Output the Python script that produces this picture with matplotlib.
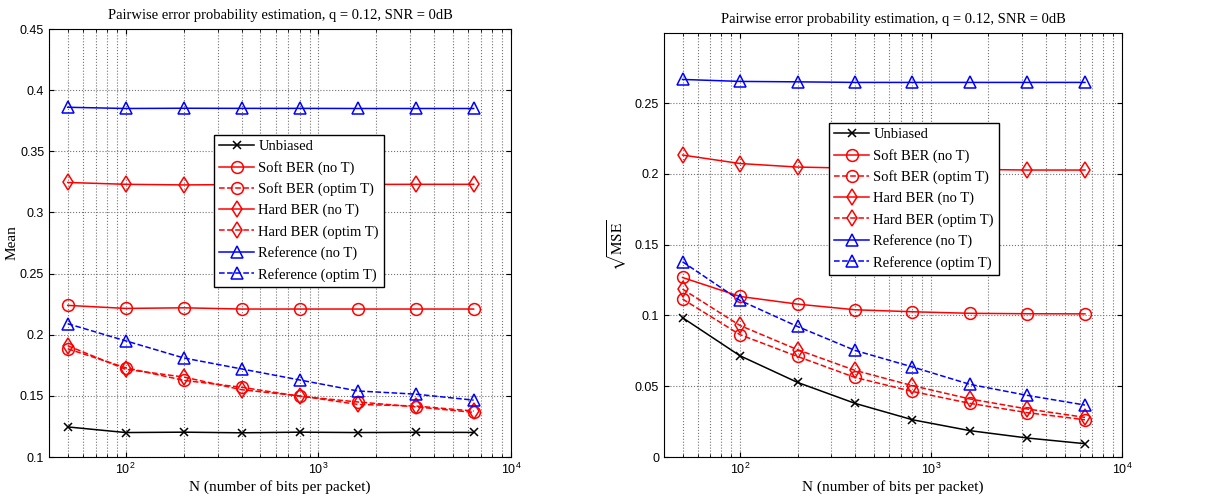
import matplotlib
matplotlib.use('Agg')
import matplotlib.pyplot as plt
import numpy as np

plt.rcParams['mathtext.fontset'] = 'stix'

# data
N = [50, 100, 200, 400, 800, 1600, 3200, 6400]

labels = ['Unbiased', 'Soft BER (no T)', 'Soft BER (optim T)', 'Hard BER (no T)',
          'Hard BER (optim T)', 'Reference (no T)', 'Reference (optim T)']

mean_unbiased = [0.1246, 0.1200, 0.1203, 0.1198, 0.1203, 0.1200, 0.1202, 0.1201]
mean_soft_not = [0.224, 0.2215, 0.222, 0.221, 0.221, 0.221, 0.221, 0.221]
mean_soft_opt = [0.1885, 0.1730, 0.1627, 0.1570, 0.1497, 0.1450, 0.1410, 0.1365]
mean_hard_not = [0.3245, 0.3230, 0.3225, 0.3228, 0.3229, 0.3229, 0.3230, 0.3230]
mean_hard_opt = [0.1910, 0.1717, 0.1654, 0.1550, 0.1500, 0.1430, 0.1417, 0.1376]
mean_ref_not = [0.3860, 0.3850, 0.3852, 0.3851, 0.3851, 0.3850, 0.3850, 0.3850]
mean_ref_opt = [0.2090, 0.1950, 0.1810, 0.1720, 0.1630, 0.1540, 0.1514, 0.1465]

rmse_unbiased = [0.0984, 0.0715, 0.0527, 0.0379, 0.0263, 0.0186, 0.0134, 0.0094]
rmse_soft_not = [0.1268, 0.1134, 0.1080, 0.1040, 0.1026, 0.1015, 0.1012, 0.1011]
rmse_soft_opt = [0.1116, 0.0864, 0.0710, 0.0562, 0.0463, 0.0379, 0.0313, 0.0263]
rmse_hard_not = [0.2133, 0.2073, 0.2048, 0.2040, 0.2035, 0.2032, 0.2027, 0.2027]
rmse_hard_opt = [0.1186, 0.0929, 0.0758, 0.0612, 0.0504, 0.0410, 0.0339, 0.0280]
rmse_ref_not = [0.2667, 0.2653, 0.2650, 0.2646, 0.2646, 0.2646, 0.2646, 0.2646]
rmse_ref_opt = [0.1379, 0.1106, 0.0922, 0.0753, 0.0636, 0.0513, 0.0435, 0.0367]

styles = [('k', '-', 'x'), ('r', '-', 'o'), ('r', '--', 'o'), ('r', '-', 'd'),
          ('r', '--', 'd'), ('b', '-', '^'), ('b', '--', '^')]

title = 'Pairwise error probability estimation, q = 0.12, SNR = 0dB'
serif = 'Liberation Serif'
sans = 'Liberation Sans'

fig = plt.figure(figsize=(12.23, 4.99), dpi=100)
ax1 = fig.add_axes([49/1223, 1-457/499, 462/1223, 428/499])
ax2 = fig.add_axes([664/1223, 1-457/499, 458/1223, 424/499])


def draw(ax, series, ylim, yticks, ylabel, legpos, ylpad):
    for y, (c, ls, m), lab in zip(series, styles, labels):
        ax.plot(N, y, color=c, linestyle=ls, marker=m, markerfacecolor='none',
                markeredgecolor=c, markersize={'x': 5.5, 'd': 8, 'o': 8.5, '^': 8.5}[m],
                markeredgewidth=1.1, linewidth=1.1, label=lab)
    ax.set_xscale('log')
    ax.set_xlim(40, 1e4)
    ax.set_ylim(*ylim)
    ax.set_yticks(yticks)
    ax.set_yticklabels([('%g' % t) for t in yticks], fontfamily=sans, fontsize=9)
    for t in ax.get_xticklabels():
        t.set_fontfamily(sans)
        t.set_fontsize(9)
    ax.grid(True, which='major', linestyle=':', color='0.45', linewidth=0.8)
    ax.grid(True, which='minor', axis='x', linestyle=':', color='0.45', linewidth=0.8)
    ax.tick_params(which='both', direction='in', top=True, right=True)
    ax.set_title(title, fontfamily=serif, fontsize=10.5, pad=7)
    ax.set_xlabel('N (number of bits per packet)', fontfamily=serif, fontsize=11, labelpad=2)
    ax.set_ylabel(ylabel, fontfamily=serif, fontsize=11, labelpad=ylpad)
    leg = ax.legend(loc='upper left', bbox_to_anchor=legpos, prop={'family': serif, 'size': 10.5},
                    fancybox=False, edgecolor='k', framealpha=1, handlelength=2.4,
                    handletextpad=0.3, borderpad=0.35, labelspacing=0.52,
                    borderaxespad=0)
    leg.get_frame().set_linewidth(1.0)


draw(ax1, [mean_unbiased, mean_soft_not, mean_soft_opt, mean_hard_not, mean_hard_opt,
           mean_ref_not, mean_ref_opt],
     (0.1, 0.45), [0.1, 0.15, 0.2, 0.25, 0.3, 0.35, 0.4, 0.45], 'Mean',
     ((214-49)/462, (457-135)/428), 1)
draw(ax2, [rmse_unbiased, rmse_soft_not, rmse_soft_opt, rmse_hard_not, rmse_hard_opt,
           rmse_ref_not, rmse_ref_opt],
     (0, 0.2995), [0, 0.05, 0.1, 0.15, 0.2, 0.25], r'$\sqrt{\mathrm{MSE}}$',
     ((829-664)/458, (457-123)/424), 4)

fig.savefig('out.png', dpi=100)
